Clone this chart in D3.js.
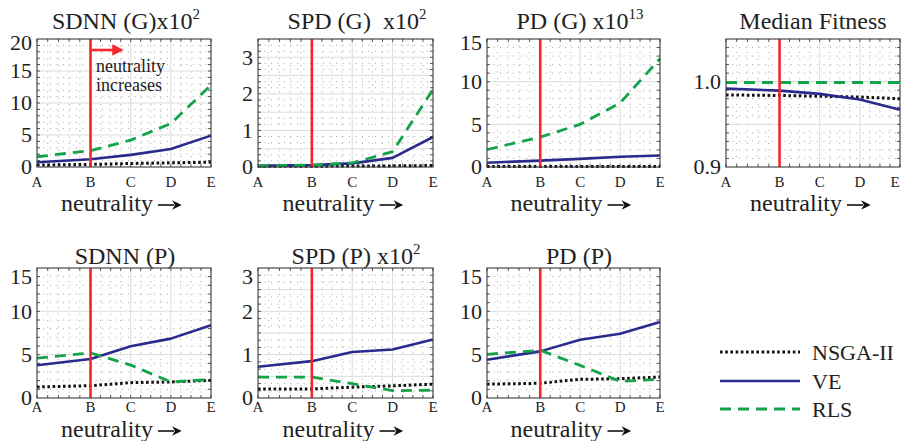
<!DOCTYPE html>
<html><head><meta charset="utf-8">
<script src="https://cdn.jsdelivr.net/npm/d3@7"></script>
<style>
@font-face { font-family: "CMSerif"; src: local("Liberation Serif"), local("LiberationSerif"), local("Liberation Serif Regular"), local("LiberationSerif-Regular"); }
body{margin:0;background:#fff}
</style>
</head><body>
<svg id="c" width="903" height="441"></svg>
<script>
// ---------- data ----------
const categories = ['A','B','C','D','E'];
const neutralityLevels = [0, 4, 7, 10, 13];
const markedCategory = 'B';
const seriesNames = ['NSGA-II', 'VE', 'RLS'];

const sdnnG_NSGA = [0.3, 0.4, 0.55, 0.65, 0.75];
const sdnnG_VE   = [0.75, 1.2, 1.9, 2.8, 4.9];
const sdnnG_RLS  = [1.6, 2.55, 4.2, 6.8, 12.8];
const sdnnG_ticks = [0, 5, 10, 15, 20];

const spdG_NSGA = [0.02, 0.02, 0.03, 0.03, 0.04];
const spdG_VE   = [0.03, 0.05, 0.1, 0.25, 0.82];
const spdG_RLS  = [0.03, 0.05, 0.11, 0.42, 2.12];
const spdG_ticks = [0, 1, 2, 3];

const pdG_NSGA = [0.05, 0.05, 0.05, 0.05, 0.05];
const pdG_VE   = [0.5, 0.75, 0.95, 1.2, 1.35];
const pdG_RLS  = [2.05, 3.5, 5.0, 7.5, 12.7];
const pdG_ticks = [0, 5, 10, 15];

const fit_NSGA = [0.9845, 0.9838, 0.983, 0.982, 0.980];
const fit_VE   = [0.9919, 0.9895, 0.9857, 0.979, 0.967];
const fit_RLS  = [0.999, 0.999, 0.999, 0.999, 0.999];
const fit_ticks = [0.9, 1.0];

const sdnnP_NSGA = [1.27, 1.42, 1.77, 1.85, 2.04];
const sdnnP_VE   = [3.77, 4.5, 5.96, 6.85, 8.4];
const sdnnP_RLS  = [4.6, 5.2, 3.8, 1.85, 2.15];
const sdnnP_ticks = [0, 5, 10, 15];

const spdP_NSGA = [0.21, 0.21, 0.25, 0.28, 0.32];
const spdP_VE   = [0.72, 0.85, 1.06, 1.12, 1.35];
const spdP_RLS  = [0.48, 0.48, 0.33, 0.17, 0.18];
const spdP_ticks = [0, 1, 2, 3];

const pdP_NSGA = [1.6, 1.7, 2.15, 2.23, 2.42];
const pdP_VE   = [4.42, 5.38, 6.73, 7.42, 8.77];
const pdP_RLS  = [5.04, 5.5, 3.77, 1.92, 2.15];
const pdP_ticks = [0, 5, 10, 15];

// ---------- layout / style ----------
const colors = { 'NSGA-II': '#111111', 'VE': '#2a2a8e', 'RLS': '#14a24a' };
const dashes = { 'NSGA-II': '2.6,2.6', 'VE': null, 'RLS': '11,7' };
const widths = { 'NSGA-II': 3, 'VE': 2.6, 'RLS': 2.8 };
const RED = '#f4262c';

const cols = [[37, 211], [258, 433], [487, 660], [726, 900]];
const rows = [
  { top: 39, bottom: 167, titleY: 29, tickY: 187, xlabY: 211, topShift: 4 },
  { top: 268, bottom: 398, titleY: 264, tickY: 412, xlabY: 437, topShift: 9 }
];

const panels = [
  { title: 'SDNN (G)x10', sup: '2', tx: 126, col: 0, row: 0, data: [sdnnG_NSGA, sdnnG_VE, sdnnG_RLS], ticks: sdnnG_ticks, domain: [0, 20], grid: 5, minor: 1, fmt: d3.format('d'), annot: true },
  { title: 'SPD (G)\u00a0\u00a0x10', sup: '2', tx: 357, col: 1, row: 0, data: [spdG_NSGA, spdG_VE, spdG_RLS], ticks: spdG_ticks, domain: [0, 3.5], grid: 0.5, minor: 0.5/3, fmt: d3.format('d') },
  { title: 'PD (G) x10', sup: '13', tx: 580, col: 2, row: 0, data: [pdG_NSGA, pdG_VE, pdG_RLS], ticks: pdG_ticks, domain: [0, 15], grid: 5, minor: 1, fmt: d3.format('d') },
  { title: 'Median Fitness', sup: null, tx: 813, col: 3, row: 0, data: [fit_NSGA, fit_VE, fit_RLS], ticks: fit_ticks, domain: [0.9, 1.05], grid: 0.05, minor: 0.01, fmt: d3.format('.1f') },
  { title: 'SDNN (P)', sup: null, tx: 125, col: 0, row: 1, data: [sdnnP_NSGA, sdnnP_VE, sdnnP_RLS], ticks: sdnnP_ticks, domain: [0, 15], grid: 5, minor: 1, fmt: d3.format('d') },
  { title: 'SPD (P) x10', sup: '2', tx: 356, col: 1, row: 1, data: [spdP_NSGA, spdP_VE, spdP_RLS], ticks: spdP_ticks, domain: [0, 3], grid: 0.5, minor: 0.5/3, fmt: d3.format('d') },
  { title: 'PD (P)', sup: null, tx: 579, col: 2, row: 1, data: [pdP_NSGA, pdP_VE, pdP_RLS], ticks: pdP_ticks, domain: [0, 15], grid: 5, minor: 1, fmt: d3.format('d') }
];

const svg = d3.select('#c');

function txt(sel, size) {
  return sel.append('text').style('font-family', '"Liberation Serif", CMSerif, "Times New Roman"').style('font-size', size + 'px').attr('fill', '#222');
}

const defs = svg.append('defs');
defs.append('marker').attr('id', 'redhead').attr('viewBox', '0 0 10 10')
  .attr('refX', 2).attr('refY', 5).attr('markerWidth', 5).attr('markerHeight', 4.4)
  .attr('orient', 'auto').attr('markerUnits', 'strokeWidth')
  .append('path').attr('d', 'M0,0 L10,5 L0,10 Z').attr('fill', RED);
defs.append('marker').attr('id', 'blackhead').attr('viewBox', '0 0 10 10')
  .attr('refX', 2).attr('refY', 5).attr('markerWidth', 7).attr('markerHeight', 6)
  .attr('orient', 'auto').attr('markerUnits', 'strokeWidth')
  .append('path').attr('d', 'M0,0 L10,5 L0,10 L3,5 Z').attr('fill', '#111');

panels.forEach(p => {
  const [x0, x1] = cols[p.col];
  const r = rows[p.row];
  const x = d3.scaleLinear().domain([neutralityLevels[0], neutralityLevels[neutralityLevels.length - 1]]).range([x0, x1]);
  const y = d3.scaleLinear().domain(p.domain).range([r.bottom, r.top]);
  const g = svg.append('g');

  const xMinor = [];
  for (let i = 0; i < neutralityLevels.length - 1; i++) {
    const a = neutralityLevels[i], b = neutralityLevels[i + 1];
    const n = i === 0 ? 5 : 4;
    for (let k = 1; k < n; k++) xMinor.push(a + (b - a) * k / n);
  }
  const eps = 1e-9;
  const yMinor = d3.range(p.domain[0], p.domain[1] + eps, p.minor)
    .filter(v => Math.abs(v / p.grid - Math.round(v / p.grid)) > 1e-6);
  const yGrid = d3.range(p.domain[0] + p.grid, p.domain[1] - eps, p.grid);

  g.selectAll('.mx').data(xMinor).join('line')
    .attr('x1', d => x(d)).attr('x2', d => x(d)).attr('y1', r.top).attr('y2', r.bottom)
    .attr('stroke', '#a8a8a8').attr('stroke-width', 1).attr('stroke-dasharray', '1,5.5');
  g.selectAll('.my').data(yMinor).join('line')
    .attr('x1', x0).attr('x2', x1).attr('y1', d => y(d)).attr('y2', d => y(d))
    .attr('stroke', '#a8a8a8').attr('stroke-width', 1).attr('stroke-dasharray', '1,5.5');
  g.selectAll('.gx').data(neutralityLevels.slice(1, -1)).join('line')
    .attr('x1', d => x(d)).attr('x2', d => x(d)).attr('y1', r.top).attr('y2', r.bottom)
    .attr('stroke', '#dcdcdc').attr('stroke-width', 1);
  g.selectAll('.gy').data(yGrid).join('line')
    .attr('x1', x0).attr('x2', x1).attr('y1', d => y(d)).attr('y2', d => y(d))
    .attr('stroke', '#dcdcdc').attr('stroke-width', 1);

  const tl = 3;
  [...xMinor, ...neutralityLevels].forEach(v => {
    g.append('line').attr('x1', x(v)).attr('x2', x(v)).attr('y1', r.bottom).attr('y2', r.bottom - tl).attr('stroke', '#555');
    g.append('line').attr('x1', x(v)).attr('x2', x(v)).attr('y1', r.top).attr('y2', r.top + tl).attr('stroke', '#555');
  });
  [...yMinor, ...yGrid].forEach(v => {
    g.append('line').attr('x1', x0).attr('x2', x0 + tl).attr('y1', y(v)).attr('y2', y(v)).attr('stroke', '#555');
    g.append('line').attr('x1', x1).attr('x2', x1 - tl).attr('y1', y(v)).attr('y2', y(v)).attr('stroke', '#555');
  });

  const line = d3.line().x((d, i) => x(neutralityLevels[i])).y(d => y(d));
  seriesNames.forEach((name, si) => {
    g.append('path').datum(p.data[si]).attr('d', line)
      .attr('fill', 'none').attr('stroke', colors[name]).attr('stroke-width', widths[name])
      .attr('stroke-dasharray', dashes[name]).attr('stroke-linejoin', 'round');
  });

  const bx = x(neutralityLevels[categories.indexOf(markedCategory)]);
  g.append('line').attr('x1', bx).attr('x2', bx).attr('y1', r.top).attr('y2', r.bottom)
    .attr('stroke', RED).attr('stroke-width', 2.6);

  g.append('rect').attr('x', x0).attr('y', r.top).attr('width', x1 - x0).attr('height', r.bottom - r.top)
    .attr('fill', 'none').attr('stroke', '#3a3a3a').attr('stroke-width', 1.1);

  p.ticks.forEach(t => {
    const atTop = Math.abs(t - p.domain[1]) < 1e-9;
    txt(g, 22).attr('x', x0 - 5).attr('y', y(t) + (atTop ? r.topShift : 0))
      .attr('dy', '0.34em').attr('text-anchor', 'end').text(p.fmt(t));
  });
  categories.forEach((c, i) => {
    txt(g, 15).attr('x', Math.min(x(neutralityLevels[i]), 895)).attr('y', r.tickY).attr('text-anchor', 'middle').text(c);
  });
  const lc = (x0 + x1) / 2 - 17;
  txt(g, 24).attr('x', lc).attr('y', r.xlabY).attr('text-anchor', 'middle').text('neutrality');
  g.append('line').attr('x1', lc + 51).attr('x2', lc + 67).attr('y1', r.xlabY - 6).attr('y2', r.xlabY - 6)
    .attr('stroke', '#111').attr('stroke-width', 1.6).attr('marker-end', 'url(#blackhead)');

  const tt = txt(g, 24).attr('x', p.tx).attr('y', r.titleY).attr('text-anchor', 'middle');
  tt.append('tspan').text(p.title);
  if (p.sup) tt.append('tspan').attr('dy', -10).style('font-size', '15px').text(p.sup);

  if (p.annot) {
    g.append('line').attr('x1', bx + 1).attr('x2', bx + 24).attr('y1', 50).attr('y2', 50)
      .attr('stroke', RED).attr('stroke-width', 2.6).attr('marker-end', 'url(#redhead)');
    txt(g, 18).attr('x', 96).attr('y', 72).text('neutrality');
    txt(g, 18).attr('x', 96).attr('y', 91).text('increases');
  }
});

const legY = [352, 381, 409];
seriesNames.forEach((name, i) => {
  svg.append('line').attr('x1', 720).attr('x2', 800).attr('y1', legY[i]).attr('y2', legY[i])
    .attr('stroke', colors[name]).attr('stroke-width', widths[name]).attr('stroke-dasharray', dashes[name]);
  txt(svg, 22).attr('x', 812).attr('y', legY[i]).attr('dy', '0.35em').text(name);
});
</script>
</body></html>
